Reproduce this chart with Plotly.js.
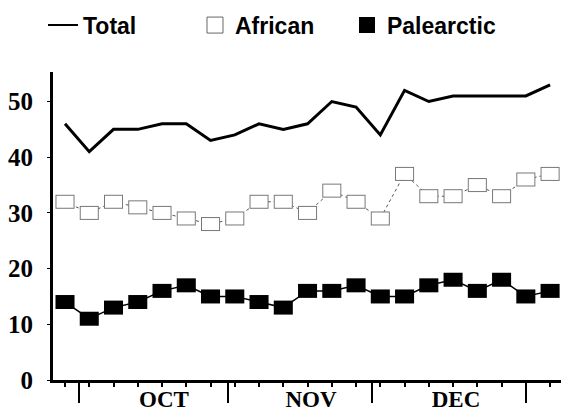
<!DOCTYPE html>
<html><head><meta charset="utf-8">
<script src="https://cdn.plot.ly/plotly-3.0.1.min.js"></script>
<style>html,body{margin:0;padding:0;background:#fff}#chart{width:561px;height:411px}</style>
</head><body><div id="chart"></div>
<script>
const samples = [1,2,3,4,5,6,7,8,9,10,11,12,13,14,15,16,17,18,19,20,21];
const total = [46,41,45,45,46,46,43,44,46,45,46,50,49,44,52,50,51,51,51,51,53];
const african = [32,30,32,31,30,29,28,29,32,32,30,34,32,29,37,33,33,35,33,36,37];
const palearctic = [14,11,13,14,16,17,15,15,14,13,16,16,17,15,15,17,18,16,18,15,16];
const months = ['OCT','NOV','DEC'];
const monthLabelPos = [5.08, 11.14, 17.12];
const monthBounds = [1.58, 7.72, 13.65, 20.0];
const yTicks = [0,10,20,30,40,50];

const xr = [0.505, 21.45];
const traces = [
  {x: samples, y: total, mode: 'lines', line: {color: '#000', width: 3}, showlegend: false, hoverinfo: 'skip'},
  {x: samples, y: african, mode: 'lines+markers', line: {color: '#555', width: 1, dash: 'dot'},
   marker: {symbol: 'line-ew', size: 13.6, color: '#777', line: {color: '#777', width: 14}}, showlegend: false},
  {x: samples, y: african, mode: 'markers',
   marker: {symbol: 'line-ew', size: 12.2, color: '#fff', line: {color: '#fff', width: 12}}, showlegend: false},
  {x: samples, y: palearctic, mode: 'lines+markers', line: {color: '#000', width: 1.5},
   marker: {symbol: 'line-ew', size: 13.6, color: '#000', line: {color: '#000', width: 14}}, showlegend: false},
  {x: samples, y: total, xaxis: 'x2', mode: 'markers', marker: {opacity: 0}, showlegend: false, hoverinfo: 'skip'},
  {x: samples, y: total, xaxis: 'x3', mode: 'markers', marker: {opacity: 0}, showlegend: false, hoverinfo: 'skip'},
  {x: [null], y: [null], mode: 'lines', name: 'Total', line: {color: '#000', width: 2}},
  {x: [null], y: [null], mode: 'markers', name: 'African', marker: {symbol: 'square', size: 16, color: '#fff', line: {color: '#666', width: 1}}},
  {x: [null], y: [null], mode: 'markers', name: 'Palearctic', marker: {symbol: 'square', size: 16, color: '#000', line: {color: '#000', width: 0}}}
];
const serifX = {family: 'Liberation Serif, Times New Roman, serif', size: 23, color: '#000', weight: 'bold'};
const serifY = {family: 'Liberation Serif, Times New Roman, serif', size: 25, color: '#000', weight: 'bold'};
const layout = {
  width: 561, height: 411,
  margin: {l: 53, r: 0, t: 72, b: 31},
  paper_bgcolor: '#fff', plot_bgcolor: '#fff',
  xaxis: {range: xr, showline: true, linewidth: 3, linecolor: '#000', showgrid: false, zeroline: false,
    tickmode: 'array', tickvals: monthLabelPos, ticktext: months, ticks: '', tickfont: serifX, ticklabelstandoff: -4},
  xaxis2: {range: xr, overlaying: 'x', anchor: 'y', side: 'bottom', showline: false, showgrid: false, zeroline: false,
    tickmode: 'array', tickvals: samples, ticks: 'outside', ticklen: 6, tickwidth: 2, tickcolor: '#000', showticklabels: false},
  xaxis3: {range: xr, overlaying: 'x', anchor: 'y', side: 'bottom', showline: false, showgrid: false, zeroline: false,
    tickmode: 'array', tickvals: monthBounds, ticks: 'outside', ticklen: 22, tickwidth: 2.5, tickcolor: '#000', showticklabels: false},
  yaxis: {range: [0, 55.3], showline: true, linewidth: 3, linecolor: '#000', showgrid: false, zeroline: false,
    tickmode: 'array', tickvals: yTicks, ticks: 'outside', ticklen: 3, tickwidth: 1, tickcolor: '#000', tickfont: serifY, ticklabelstandoff: 9},
  showlegend: true,
  legend: {orientation: 'h', x: -0.0197, xanchor: 'left', y: 1.222, yanchor: 'top', entrywidth: 107, entrywidthmode: 'pixels',
    font: {family: 'Liberation Sans, Arial, sans-serif', size: 23, color: '#000', weight: 'bold'}, bgcolor: 'rgba(0,0,0,0)', borderwidth: 0}
};
Plotly.newPlot('chart', traces, layout, {staticPlot: true, displayModeBar: false});
</script></body></html>
